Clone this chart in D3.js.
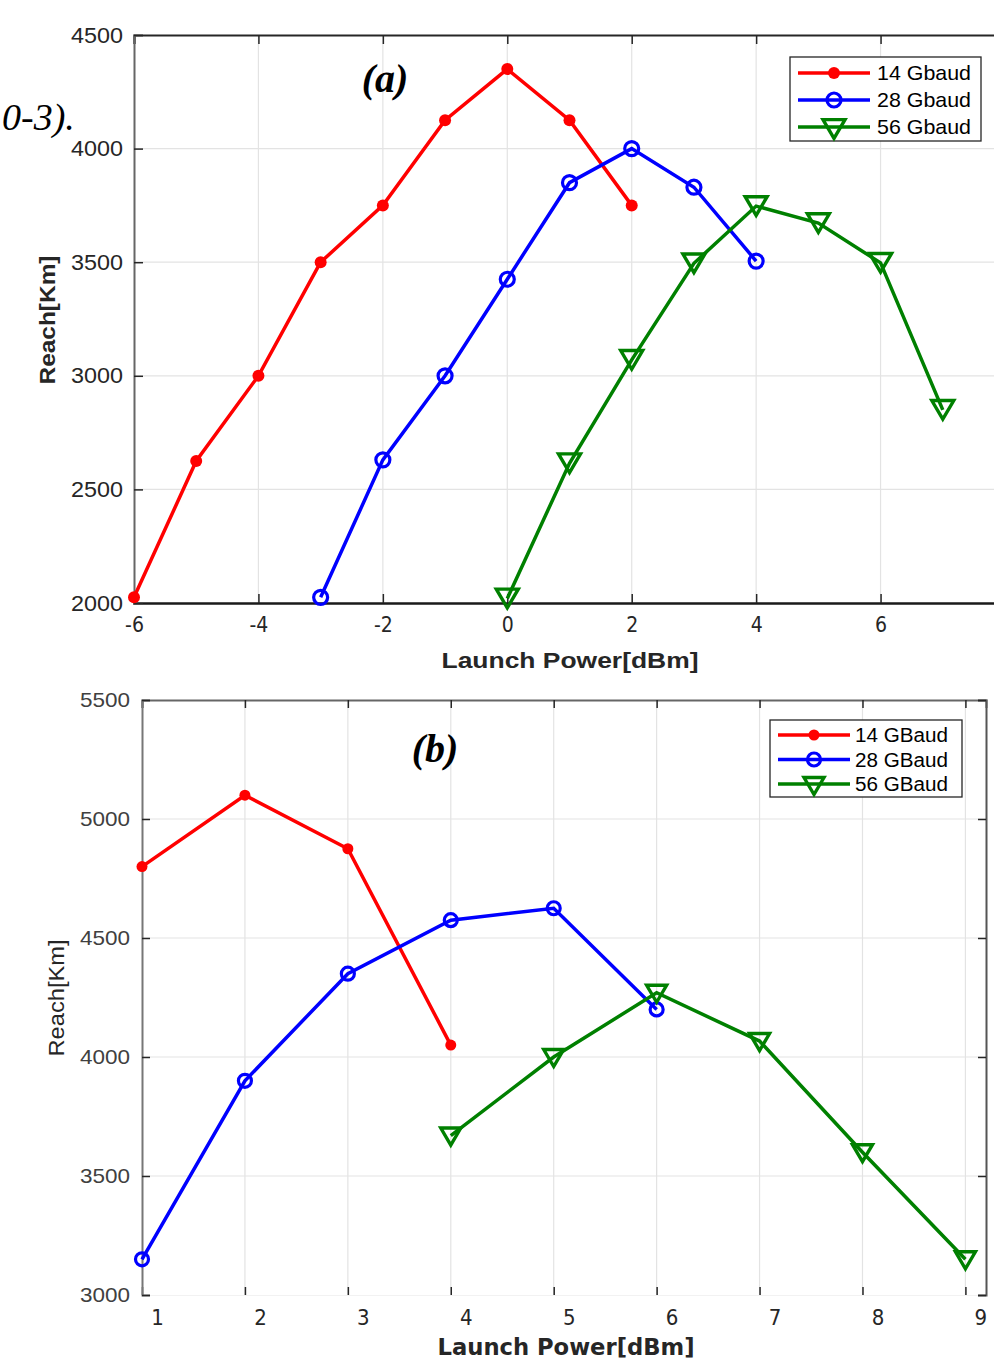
<!DOCTYPE html>
<html><head><meta charset="utf-8">
<script src="https://cdn.jsdelivr.net/npm/d3@7"></script>
<style>body{margin:0;background:#fff}svg{display:block}</style>
</head><body>
<script>
// ---- Data (panel a) ----
const seriesNamesA = ["14 Gbaud", "28 Gbaud", "56 Gbaud"];
const powerA14 = [-6, -5, -4, -3, -2, -1, 0, 1, 2];
const reachA14 = [2025, 2625, 3000, 3500, 3750, 4125, 4350, 4125, 3750];
const powerA28 = [-3, -2, -1, 0, 1, 2, 3, 4];
const reachA28 = [2025, 2630, 3000, 3425, 3850, 4000, 3830, 3505];
const powerA56 = [0, 1, 2, 3, 4, 5, 6, 7];
const reachA56 = [2020, 2615, 3070, 3495, 3747, 3672, 3497, 2850];
const xTicksA = [-6, -4, -2, 0, 2, 4, 6, 8];
const yTicksA = [2000, 2500, 3000, 3500, 4000, 4500];

// ---- Data (panel b) ----
const seriesNamesB = ["14 GBaud", "28 GBaud", "56 GBaud"];
const powerB14 = [1, 2, 3, 4];
const reachB14 = [4800, 5100, 4875, 4050];
const powerB28 = [1, 2, 3, 4, 5, 6];
const reachB28 = [3150, 3900, 4350, 4575, 4625, 4200];
const powerB56 = [4, 5, 6, 7, 8, 9];
const reachB56 = [3670, 4000, 4270, 4067, 3600, 3150];
const xTicksB = [1, 2, 3, 4, 5, 6, 7, 8, 9];
const yTicksB = [3000, 3500, 4000, 4500, 5000, 5500];

const colors = ["#ff0000", "#0000ff", "#008000"];
const markers = ["dot", "circle", "tri"];

const W = 994, H = 1361;
const svg = d3.select("body").append("svg").attr("width", W).attr("height", H);
const SANS = "'Liberation Sans', Arial, sans-serif";
const NARROW = "'Liberation Sans Narrow', 'DejaVu Sans Condensed', 'Liberation Sans', sans-serif";
const SERIF = "'Liberation Serif', 'Times New Roman', serif";
const fmt = v => String(v); // plain hyphen minus like the reference

function drawMarker(g, type, x, y, color, s) {
  if (type === "dot") {
    g.append("circle").attr("cx", x).attr("cy", y).attr("r", s.dot).attr("fill", color);
  } else if (type === "circle") {
    g.append("circle").attr("cx", x).attr("cy", y).attr("r", s.circ)
      .attr("fill", "none").attr("stroke", color).attr("stroke-width", 3.2);
  } else {
    const w = s.tri, h = s.tri * 0.85;
    g.append("path")
      .attr("d", `M${x - w / 2},${y - h / 2}L${x + w / 2},${y - h / 2}L${x},${y + h / 2}Z`)
      .attr("fill", "none").attr("stroke", color).attr("stroke-width", 3.4)
      .attr("stroke-linejoin", "miter");
  }
}

function panel(cfg) {
  const x = d3.scaleLinear().domain(cfg.xDomain).range([cfg.left, cfg.right]);
  const y = d3.scaleLinear().domain(cfg.yDomain).range([cfg.bottom, cfg.top]);
  const g = svg.append("g");
  const clipId = "clip" + cfg.id;
  svg.append("clipPath").attr("id", clipId).append("rect")
    .attr("x", 0).attr("y", cfg.top - 20).attr("width", W).attr("height", cfg.bottom - cfg.top + 40);

  // grid
  const grid = g.append("g").attr("stroke", "#e3e3e3").attr("stroke-width", 1.2);
  cfg.xTicks.forEach(t => {
    if (x(t) > cfg.left + 1 && x(t) < Math.min(cfg.right, W))
      grid.append("line").attr("x1", x(t)).attr("x2", x(t)).attr("y1", cfg.top).attr("y2", cfg.bottom);
  });
  cfg.yTicks.forEach(t => {
    if (y(t) > cfg.top + 1 && y(t) < cfg.bottom - 1)
      grid.append("line").attr("x1", cfg.left).attr("x2", Math.min(cfg.right, W)).attr("y1", y(t)).attr("y2", y(t));
  });

  // axes via d3
  const ax = g.append("g").attr("transform", `translate(0,${cfg.bottom})`)
    .call(d3.axisBottom(x).tickValues(cfg.xTicks.filter(t => x(t) <= W)).tickSize(-cfg.tick).tickPadding(cfg.xPad).tickFormat(fmt));
  ax.select(".domain").attr("stroke", cfg.bottomColor).attr("stroke-width", cfg.bottomWidth);
  ax.selectAll(".tick line").attr("stroke", "#262626").attr("stroke-width", 1.5);
  ax.selectAll(".tick text").attr("font-family", cfg.xFont).attr("font-size", cfg.xFs)
    .attr("fill", "#262626").attr("dx", cfg.xLabelDx);

  const axTop = g.append("g").attr("transform", `translate(0,${cfg.top})`)
    .call(d3.axisTop(x).tickValues(cfg.xTicks.filter(t => x(t) <= W)).tickSize(-cfg.tick).tickFormat(""));
  axTop.select(".domain").attr("stroke", cfg.topColor).attr("stroke-width", cfg.topWidth);
  axTop.selectAll(".tick line").attr("stroke", "#262626").attr("stroke-width", 1.5);

  const ay = g.append("g").attr("transform", `translate(${cfg.left},0)`)
    .call(d3.axisLeft(y).tickValues(cfg.yTicks).tickSize(-cfg.tick).tickPadding(cfg.yPad).tickFormat(fmt));
  ay.select(".domain").attr("stroke", cfg.leftColor).attr("stroke-width", 2);
  ay.selectAll(".tick line").attr("stroke", "#262626").attr("stroke-width", 1.5);
  ay.selectAll(".tick text").attr("font-family", cfg.yFont).attr("font-size", cfg.yFs).attr("fill", cfg.yColor)
    .attr("textLength", cfg.yLen).attr("lengthAdjust", "spacingAndGlyphs");

  if (cfg.rightAxis) {
    const ar = g.append("g").attr("transform", `translate(${cfg.right},0)`)
      .call(d3.axisRight(y).tickValues(cfg.yTicks).tickSize(-cfg.tick).tickFormat(""));
    ar.select(".domain").attr("stroke", "#555").attr("stroke-width", 2);
    ar.selectAll(".tick line").attr("stroke", "#262626").attr("stroke-width", 1.5);
  }

  // series
  const data = g.append("g").attr("clip-path", `url(#${clipId})`);
  cfg.series.forEach((s, i) => {
    const pts = s.px.map((p, k) => [x(p), y(s.py[k])]);
    data.append("path").attr("d", d3.line()(pts)).attr("fill", "none")
      .attr("stroke", colors[i]).attr("stroke-width", cfg.lw).attr("stroke-linejoin", "miter");
    pts.forEach(p => drawMarker(data, markers[i], p[0], p[1] + (markers[i] === "tri" ? cfg.triDy : 0), colors[i], cfg.ms));
  });

  // legend
  const L = cfg.legend;
  const lg = g.append("g");
  lg.append("rect").attr("x", L.x).attr("y", L.y).attr("width", L.w).attr("height", L.h)
    .attr("fill", "#fff").attr("stroke", "#262626").attr("stroke-width", 1.3);
  cfg.names.forEach((n, i) => {
    const yy = L.y + L.row0 + i * L.dy;
    lg.append("line").attr("x1", L.x + 8).attr("x2", L.x + 80).attr("y1", yy).attr("y2", yy)
      .attr("stroke", colors[i]).attr("stroke-width", cfg.lw);
    drawMarker(lg, markers[i], L.x + 44, yy + (markers[i] === "tri" ? 2 : 0), colors[i], cfg.ms);
    lg.append("text").attr("x", L.x + L.tx).attr("y", yy + 7).text(n)
      .attr("font-family", SANS).attr("font-size", L.fs).attr("fill", "#000")
      .attr("textLength", L.len).attr("lengthAdjust", "spacingAndGlyphs");
  });

  // axis titles
  g.append("text").attr("x", cfg.xTitle.x).attr("y", cfg.xTitle.y).attr("text-anchor", "middle")
    .attr("font-family", cfg.xTitle.font).attr("font-weight", "bold").attr("font-size", cfg.xTitle.fs)
    .attr("fill", "#262626").attr("textLength", cfg.xTitle.len).attr("lengthAdjust", "spacingAndGlyphs")
    .text("Launch Power[dBm]");
  g.append("text").attr("transform", `translate(${cfg.yTitle.x},${cfg.yTitle.y}) rotate(-90)`)
    .attr("text-anchor", "middle").attr("font-family", SANS).attr("font-weight", cfg.yTitle.weight)
    .attr("font-size", cfg.yTitle.fs).attr("fill", "#262626")
    .attr("textLength", cfg.yTitle.len).attr("lengthAdjust", "spacingAndGlyphs").text("Reach[Km]");

  // panel tag
  g.append("text").attr("x", cfg.tag.x).attr("y", cfg.tag.y).attr("text-anchor", "middle")
    .attr("font-family", SERIF).attr("font-style", "italic").attr("font-weight", "bold")
    .attr("font-size", 40).attr("fill", "#000").text(cfg.tag.t);
}

panel({
  id: "a", xDomain: [-6, 8], yDomain: [2000, 4500],
  left: 134, right: 1005, top: 35, bottom: 603,
  xTicks: xTicksA, yTicks: yTicksA, tick: 9,
  xPad: 14, xFont: NARROW, xFs: 21, xLabelDx: 0,
  yPad: 11, yFont: SANS, yFs: 22, yLen: 52, yColor: "#262626",
  bottomColor: "#1a1a1a", bottomWidth: 2.6, topColor: "#262626", topWidth: 2.2,
  leftColor: "#666", rightAxis: false,
  lw: 3.5, ms: { dot: 6, circ: 7, tri: 22 }, triDy: 0,
  series: [{ px: powerA14, py: reachA14 }, { px: powerA28, py: reachA28 }, { px: powerA56, py: reachA56 }],
  names: seriesNamesA,
  legend: { x: 790, y: 57, w: 191, h: 84, row0: 16, dy: 27, tx: 87, fs: 21, len: 94 },
  xTitle: { x: 570, y: 668, fs: 22, len: 257, font: SANS },
  yTitle: { x: 55, y: 320, fs: 22, len: 129, weight: "bold" },
  tag: { x: 385, y: 92, t: "(a)" }
});

panel({
  id: "b", xDomain: [1, 9.2], yDomain: [3000, 5500],
  left: 142, right: 986, top: 700, bottom: 1295,
  xTicks: xTicksB, yTicks: yTicksB, tick: 8,
  xPad: 14, xFont: NARROW, xFs: 22, xLabelDx: 15,
  yPad: 12, yFont: SANS, yFs: 21, yLen: 50, yColor: "#404040",
  bottomColor: "#f2f2f2", bottomWidth: 1, topColor: "#666", topWidth: 2,
  leftColor: "#777", rightAxis: true,
  lw: 3.5, ms: { dot: 5.5, circ: 6.5, tri: 20 }, triDy: 1,
  series: [{ px: powerB14, py: reachB14 }, { px: powerB28, py: reachB28 }, { px: powerB56, py: reachB56 }],
  names: seriesNamesB,
  legend: { x: 770, y: 720, w: 192, h: 77, row0: 15, dy: 24.5, tx: 85, fs: 20, len: 93 },
  xTitle: { x: 566, y: 1355, fs: 23, len: 257, font: NARROW },
  yTitle: { x: 64, y: 998, fs: 22, len: 117, weight: "normal" },
  tag: { x: 435, y: 762, t: "(b)" }
});

// caption fragment at left edge
svg.append("text").attr("x", 2).attr("y", 130).attr("text-anchor", "start")
  .attr("font-family", SERIF).attr("font-style", "italic").attr("font-size", 38)
  .attr("fill", "#000").text("0-3).");
</script>
</body></html>
